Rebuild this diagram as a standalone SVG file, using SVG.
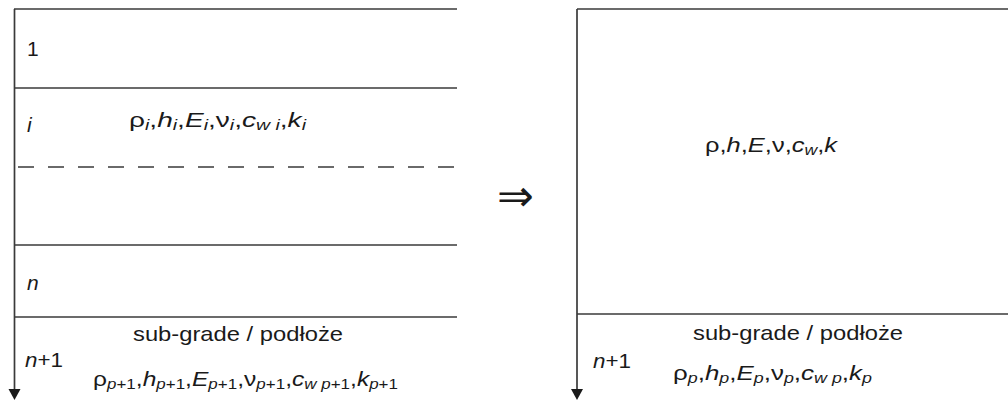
<svg xmlns="http://www.w3.org/2000/svg" width="1008" height="400" viewBox="0 0 1008 400">
<style>
.ln{stroke:#3a3a3a;stroke-width:1.7;fill:none}
.dash{stroke:#3a3a3a;stroke-width:1.7;fill:none;stroke-dasharray:16 14}
.head{fill:#1a1a1a;stroke:none}
text{font-family:"Liberation Sans",Arial,sans-serif;font-size:21px;fill:#1a1a1a}
.it{font-style:italic}
.g{font-style:normal}
.s{font-size:14.5px}
.sym{font-family:"DejaVu Sans",sans-serif;font-size:44px;font-weight:200}
</style>
<rect width="1008" height="400" fill="#fff"/>
<g id="connectors">
<line class="ln" x1="14.5" y1="9" x2="14.5" y2="392"/>
<polygon class="head" points="8.5,389 20.5,389 14.5,400"/>
<line class="ln" x1="577" y1="9" x2="577" y2="392"/>
<polygon class="head" points="571,389 583,389 577,400"/>
</g>
<g id="left-layers">
<line class="ln" x1="14" y1="9" x2="457" y2="9"/>
<line class="ln" x1="14" y1="88" x2="457" y2="88"/>
<line class="dash" x1="18" y1="167" x2="462" y2="167"/>
<line class="ln" x1="14" y1="245" x2="457" y2="245"/>
<line class="ln" x1="14" y1="317" x2="457" y2="317"/>
</g>
<g id="layer-1"><text x="27" y="56">1</text></g>
<g id="layer-i">
<text class="it" x="27" y="132">i</text>
<text x="129" y="127" textLength="177" lengthAdjust="spacingAndGlyphs"><tspan class="g">ρ</tspan><tspan class="s it" dy="3">i</tspan><tspan dy="-3">,</tspan><tspan class="it">h</tspan><tspan class="s it" dy="3">i</tspan><tspan dy="-3">,</tspan><tspan class="it">E</tspan><tspan class="s it" dy="3">i</tspan><tspan dy="-3">,</tspan><tspan class="g">ν</tspan><tspan class="s it" dy="3">i</tspan><tspan dy="-3">,</tspan><tspan class="it">c</tspan><tspan class="s it" dy="3">w i</tspan><tspan dy="-3">,</tspan><tspan class="it">k</tspan><tspan class="s it" dy="3">i</tspan></text>
</g>
<g id="layer-n"><text class="it" x="27" y="290">n</text></g>
<g id="subgrade-left">
<text x="133" y="341" textLength="210" lengthAdjust="spacingAndGlyphs">sub-grade / podłoże</text>
<text x="25" y="367" textLength="38" lengthAdjust="spacingAndGlyphs"><tspan class="it">n</tspan>+1</text>
<text x="93" y="386" textLength="305" lengthAdjust="spacingAndGlyphs"><tspan class="g">ρ</tspan><tspan class="s" dy="3"><tspan class="it">p</tspan>+1</tspan><tspan dy="-3">,</tspan><tspan class="it">h</tspan><tspan class="s" dy="3"><tspan class="it">p</tspan>+1</tspan><tspan dy="-3">,</tspan><tspan class="it">E</tspan><tspan class="s" dy="3"><tspan class="it">p</tspan>+1</tspan><tspan dy="-3">,</tspan><tspan class="g">ν</tspan><tspan class="s" dy="3"><tspan class="it">p</tspan>+1</tspan><tspan dy="-3">,</tspan><tspan class="it">c</tspan><tspan class="s" dy="3"><tspan class="it">w p</tspan>+1</tspan><tspan dy="-3">,</tspan><tspan class="it">k</tspan><tspan class="s" dy="3"><tspan class="it">p</tspan>+1</tspan></text>
</g>
<g id="implies"><text class="sym" x="515" y="211" text-anchor="middle">⇒</text></g>
<g id="right-layers">
<line class="ln" x1="577" y1="9" x2="1008" y2="9"/>
<line class="ln" x1="577" y1="314" x2="1008" y2="314"/>
</g>
<g id="equivalent-layer">
<text x="705" y="152" textLength="132" lengthAdjust="spacingAndGlyphs"><tspan class="g">ρ</tspan>,<tspan class="it">h</tspan>,<tspan class="it">E</tspan>,<tspan class="g">ν</tspan>,<tspan class="it">c</tspan><tspan class="s it" dy="3">w</tspan><tspan dy="-3">,</tspan><tspan class="it">k</tspan></text>
</g>
<g id="subgrade-right">
<text x="693" y="340" textLength="210" lengthAdjust="spacingAndGlyphs">sub-grade / podłoże</text>
<text x="593" y="368" textLength="38" lengthAdjust="spacingAndGlyphs"><tspan class="it">n</tspan>+1</text>
<text x="673" y="380" textLength="199" lengthAdjust="spacingAndGlyphs"><tspan class="g">ρ</tspan><tspan class="s it" dy="3">p</tspan><tspan dy="-3">,</tspan><tspan class="it">h</tspan><tspan class="s it" dy="3">p</tspan><tspan dy="-3">,</tspan><tspan class="it">E</tspan><tspan class="s it" dy="3">p</tspan><tspan dy="-3">,</tspan><tspan class="g">ν</tspan><tspan class="s it" dy="3">p</tspan><tspan dy="-3">,</tspan><tspan class="it">c</tspan><tspan class="s it" dy="3">w p</tspan><tspan dy="-3">,</tspan><tspan class="it">k</tspan><tspan class="s it" dy="3">p</tspan></text>
</g>
</svg>
